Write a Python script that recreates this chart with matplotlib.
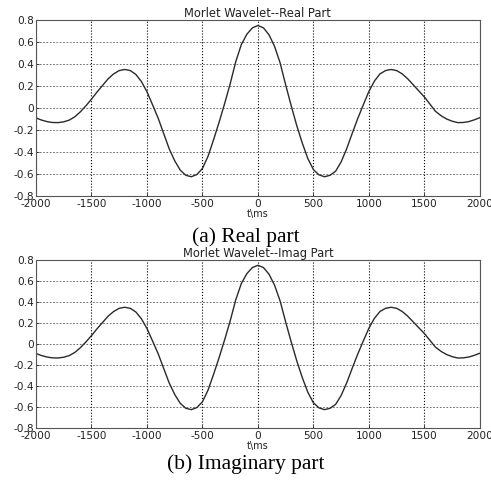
import matplotlib
matplotlib.use('Agg')
import matplotlib.pyplot as plt

# time axis in ms (sample spacing 50 ms)
t_ms = [-2000, -1950, -1900, -1850, -1800, -1750, -1700, -1650, -1600, -1550,
        -1500, -1450, -1400, -1350, -1300, -1250, -1200, -1150, -1100, -1050,
        -1000, -950, -900, -850, -800, -750, -700, -650, -600, -550,
        -500, -450, -400, -350, -300, -250, -200, -150, -100, -50,
        0, 50, 100, 150, 200, 250, 300, 350, 400, 450,
        500, 550, 600, 650, 700, 750, 800, 850, 900, 950,
        1000, 1050, 1100, 1150, 1200, 1250, 1300, 1350, 1400, 1450,
        1500, 1550, 1600, 1650, 1700, 1750, 1800, 1850, 1900, 1950, 2000]

# values
real_part = [-0.09, -0.11, -0.124, -0.132, -0.133, -0.126, -0.11, -0.08, -0.035, 0.02,
             0.08, 0.145, 0.205, 0.265, 0.31, 0.34, 0.35, 0.34, 0.305, 0.24,
             0.148, 0.03, -0.09, -0.23, -0.37, -0.48, -0.565, -0.612, -0.625, -0.605,
             -0.55, -0.44, -0.29, -0.13, 0.04, 0.22, 0.42, 0.575, 0.67, 0.728,
             0.75, 0.728, 0.665, 0.56, 0.41, 0.21, 0.02, -0.16, -0.32, -0.46,
             -0.56, -0.608, -0.625, -0.612, -0.575, -0.49, -0.37, -0.23, -0.095, 0.03,
             0.15, 0.245, 0.31, 0.34, 0.35, 0.34, 0.31, 0.265, 0.21, 0.155,
             0.1, 0.035, -0.03, -0.07, -0.1, -0.12, -0.133, -0.132, -0.124, -0.108, -0.088]

imag_part = [-0.09, -0.11, -0.124, -0.132, -0.133, -0.126, -0.11, -0.08, -0.035, 0.02,
             0.08, 0.145, 0.205, 0.265, 0.31, 0.34, 0.35, 0.34, 0.305, 0.24,
             0.148, 0.03, -0.09, -0.23, -0.37, -0.48, -0.565, -0.612, -0.625, -0.605,
             -0.55, -0.44, -0.29, -0.13, 0.04, 0.22, 0.42, 0.575, 0.67, 0.728,
             0.75, 0.728, 0.665, 0.56, 0.41, 0.21, 0.02, -0.16, -0.32, -0.46,
             -0.56, -0.608, -0.625, -0.612, -0.575, -0.49, -0.37, -0.23, -0.095, 0.03,
             0.15, 0.245, 0.31, 0.34, 0.35, 0.34, 0.31, 0.265, 0.21, 0.155,
             0.1, 0.035, -0.03, -0.07, -0.1, -0.12, -0.133, -0.132, -0.124, -0.108, -0.088]

x_ticks = [-2000, -1500, -1000, -500, 0, 500, 1000, 1500, 2000]
y_ticks = [-0.8, -0.6, -0.4, -0.2, 0, 0.2, 0.4, 0.6, 0.8]
y_tick_labels = ['-0.8', '-0.6', '-0.4', '-0.2', '0', '0.2', '0.4', '0.6', '0.8']

plt.rcParams['axes.unicode_minus'] = False
plt.rcParams['font.family'] = 'DejaVu Sans'


def draw_panel(ax, values, title):
    ax.plot(t_ms, values, color='#2a2a2a', linewidth=1.0)
    ax.set_xlim(-2000, 2000)
    ax.set_ylim(-0.8, 0.8)
    ax.set_xticks(x_ticks)
    ax.set_xticklabels([str(v) for v in x_ticks])
    ax.set_yticks(y_ticks)
    ax.set_yticklabels(y_tick_labels)
    ax.tick_params(direction='in', length=2, width=0.6, labelsize=7.6, pad=1.5,
                   colors='#222222')
    ax.tick_params(axis='x', pad=2.5)
    ax.xaxis.grid(True, color='black', linestyle=':', linewidth=0.8)
    ax.yaxis.grid(True, color='#555555', linestyle=(0, (2, 2)), linewidth=0.6)
    for s in ax.spines.values():
        s.set_color('#555555')
        s.set_linewidth(0.8)
    ax.set_title(title, fontsize=8.3, pad=2, color='#222222')
    ax.set_xlabel('t\\ms', fontsize=7, labelpad=0, color='#222222')


fig = plt.figure(figsize=(4.91, 4.80), dpi=100)

ax1 = fig.add_axes([0.0733, 0.5917, 0.904, 0.3667])
draw_panel(ax1, real_part, 'Morlet Wavelet--Real Part')

ax2 = fig.add_axes([0.0733, 0.1083, 0.904, 0.35])
draw_panel(ax2, imag_part, 'Morlet Wavelet--Imag Part')

fig.text(0.5, 1 - 237 / 480, '(a) Real part', ha='center', va='center',
         fontsize=15.5, family='Liberation Serif')
fig.text(0.5, 1 - 464 / 480, '(b) Imaginary part', ha='center', va='center',
         fontsize=15.5, family='Liberation Serif')

fig.savefig('out.png', dpi=100)
